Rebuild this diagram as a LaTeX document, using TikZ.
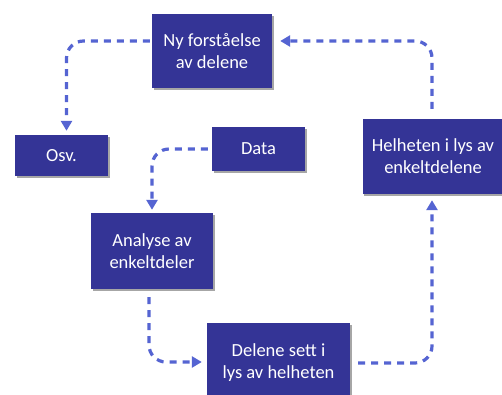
\documentclass[tikz,border=0pt]{standalone}
\usepackage{fontspec}
\setmainfont{Carlito}
\usetikzlibrary{arrows.meta,calc,shadows}
\definecolor{boxblue}{RGB}{52,52,150}
\definecolor{arrblue}{RGB}{85,100,210}
\begin{document}
\begin{tikzpicture}[x=1pt,y=-1pt,
  box/.style={fill=boxblue, text=white, align=center, inner sep=0pt,
    font=\fontsize{18.5}{22}\selectfont,
    drop shadow={shadow xshift=1.5pt, shadow yshift=-1.5pt, opacity=0.35, fill=black}},
  conn/.style={draw=arrblue, line width=3.2pt, dash pattern=on 7pt off 6pt,
    rounded corners=17pt, -{Triangle[width=11pt,length=10pt]}}]
\useasboundingbox (0,0) rectangle (502,394);
\clip (0,0) rectangle (502,394);
\fill[white] (0,0) rectangle (502,394);
\node[box, minimum width=120pt, minimum height=74pt] (ny) at (212,51) {Ny forståelse\\av delene};
\node[box, minimum width=93pt, minimum height=41pt] (osv) at (61.5,155.5) {Osv.};
\node[box, minimum width=93pt, minimum height=44pt] (data) at (258.5,149) {Data};
\node[box, minimum width=141pt, minimum height=75pt] (hel) at (433,156.5) {Helheten i lys av\\enkeltdelene};
\node[box, minimum width=122pt, minimum height=76pt] (ana) at (152,251) {Analyse av\\enkeltdeler};
\node[box, minimum width=143pt, minimum height=76pt, text depth=0pt] (del) at (278.5,361) {Delene sett i\\lys av helheten};
\draw[conn] ($(ny.west)+(-2,-10)$) -| ($(osv.north)+(5,-4)$);
\draw[conn] ($(hel.north)+(-1,-10)$) |- ($(ny.east)+(8,-10)$);
\draw[conn] ($(data.west)+(-4,0)$) -| ($(ana.north)+(0,-3)$);
\draw[conn] ($(ana.south)+(-3,8)$) |- ($(del.west)+(-5,1)$);
\draw[conn] ($(del.east)+(8,2)$) -| ($(hel.south)+(-1,6)$);
\end{tikzpicture}
\end{document}
